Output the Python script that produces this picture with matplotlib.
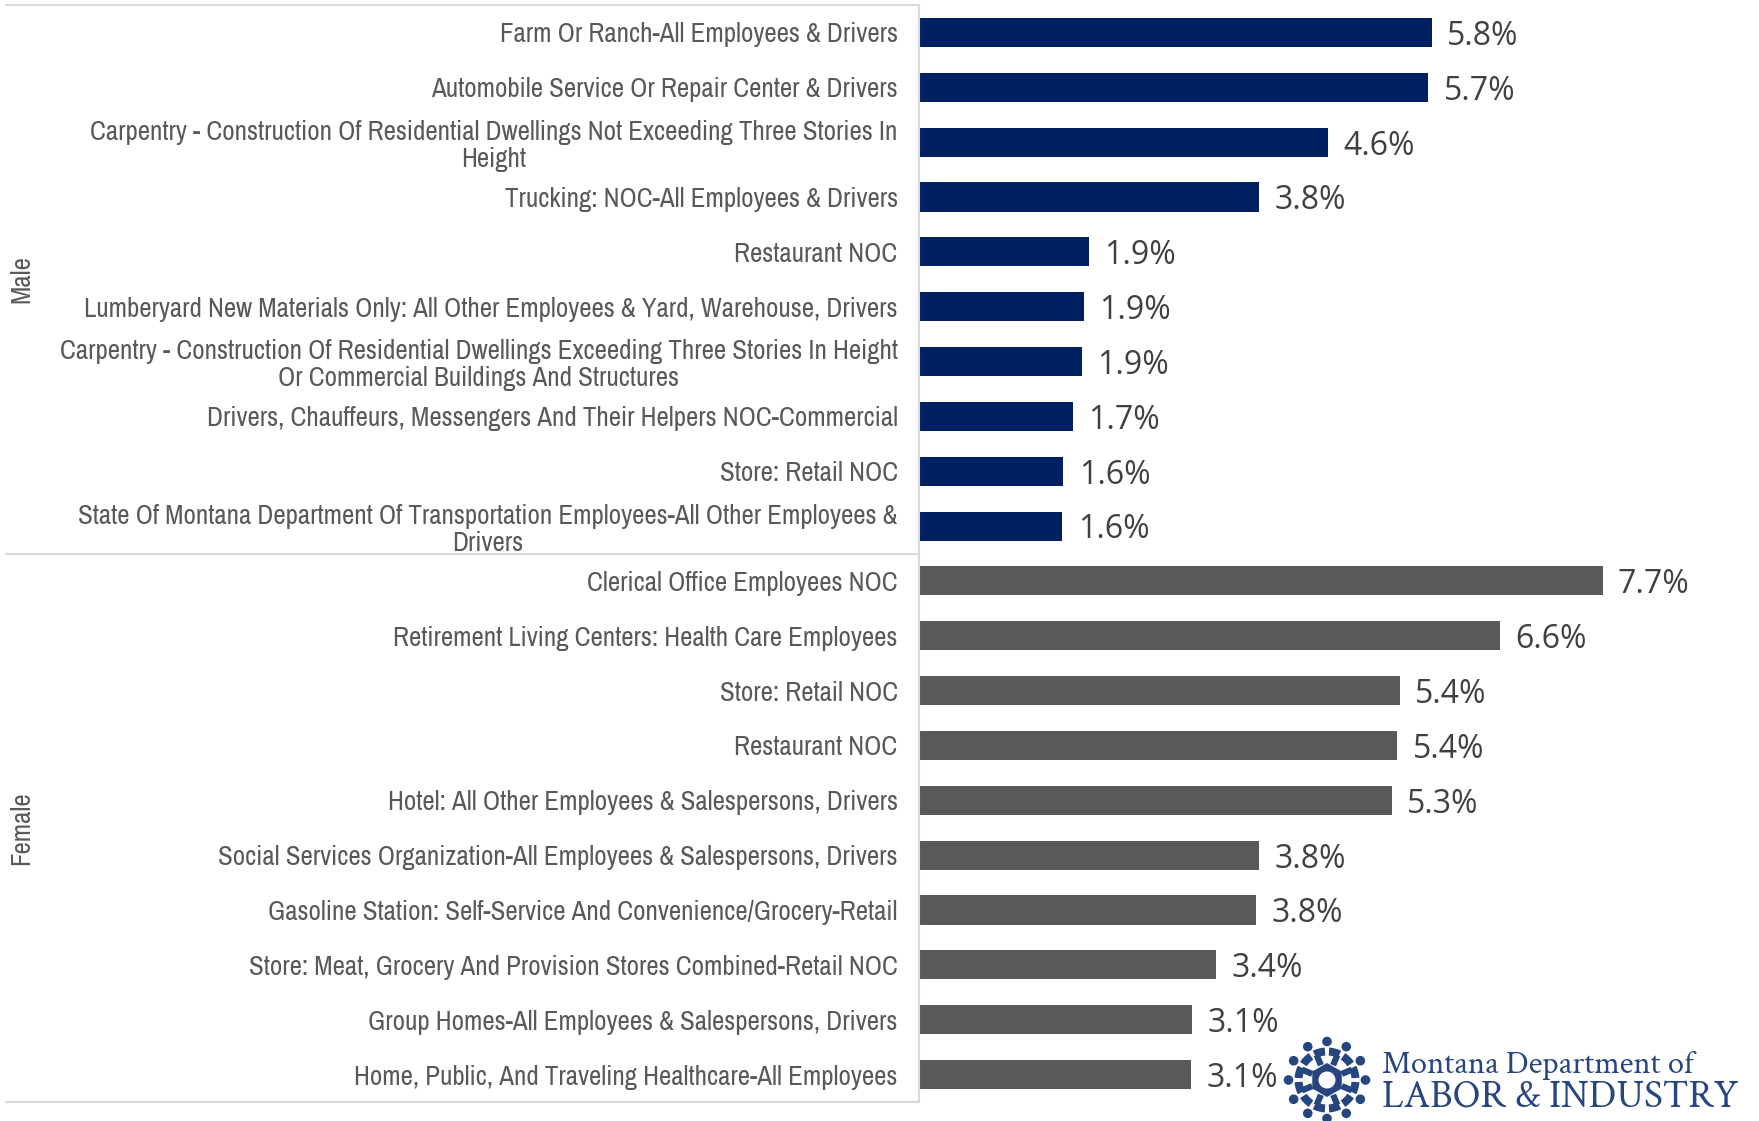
import numpy as np
import matplotlib.pyplot as plt
from matplotlib.patches import Circle, RegularPolygon, Wedge

male_labels = ['Farm Or Ranch-All Employees & Drivers',
               'Automobile Service Or Repair Center & Drivers',
               'Carpentry - Construction Of Residential Dwellings Not Exceeding Three Stories In\nHeight',
               'Trucking: NOC-All Employees & Drivers',
               'Restaurant NOC',
               'Lumberyard New Materials Only: All Other Employees & Yard, Warehouse, Drivers',
               'Carpentry - Construction Of Residential Dwellings Exceeding Three Stories In Height\nOr Commercial Buildings And Structures',
               'Drivers, Chauffeurs, Messengers And Their Helpers NOC-Commercial',
               'Store: Retail NOC',
               'State Of Montana Department Of Transportation Employees-All Other Employees &\nDrivers']
male_values = [5.78, 5.74, 4.61, 3.83, 1.92, 1.86, 1.84, 1.74, 1.63, 1.62]
male_text = ['5.8%', '5.7%', '4.6%', '3.8%', '1.9%', '1.9%', '1.9%', '1.7%', '1.6%', '1.6%']

female_labels = ['Clerical Office Employees NOC',
                 'Retirement Living Centers: Health Care Employees',
                 'Store: Retail NOC',
                 'Restaurant NOC',
                 'Hotel: All Other Employees & Salespersons, Drivers',
                 'Social Services Organization-All Employees & Salespersons, Drivers',
                 'Gasoline Station: Self-Service And Convenience/Grocery-Retail',
                 'Store: Meat, Grocery And Provision Stores Combined-Retail NOC',
                 'Group Homes-All Employees & Salespersons, Drivers',
                 'Home, Public, And Traveling Healthcare-All Employees']
female_values = [7.70, 6.55, 5.42, 5.39, 5.33, 3.83, 3.80, 3.35, 3.08, 3.07]
female_text = ['7.7%', '6.6%', '5.4%', '5.4%', '5.3%', '3.8%', '3.8%', '3.4%', '3.1%', '3.1%']

W, H = 1759, 1121
NAVY = '#002060'
GREY = '#595959'
LINE = '#D9D9D9'
LOGO = '#27457F'
NARROW = ['Archivo Narrow', 'Lato', 'DejaVu Sans']
VALUE_FONT = ['Open Sans', 'DejaVu Sans']
LOGO_FONT = ['Crimson Text', 'Liberation Serif', 'DejaVu Serif']

labels = male_labels + female_labels
values = male_values + female_values
texts = male_text + female_text
colors = [NAVY] * len(male_values) + [GREY] * len(female_values)
y = np.arange(len(values))

fig = plt.figure(figsize=(W / 100, H / 100), dpi=100)
ax = fig.add_axes([918.5 / W, 1 - 1102 / H, (W - 918.5) / W, (1102 - 5) / H])
ax.barh(y, values, height=0.53, color=colors)
ax.set_xlim(0, (W - 918.5) / 88.85)
ax.set_ylim(len(values) - 0.5, -0.5)

ax.set_yticks(y)
ax.set_yticklabels(labels, fontsize=19.4, color=GREY, family=NARROW,
                   ha='right', multialignment='center', linespacing=1.1)
ax.tick_params(axis='y', length=0, pad=15)
ax.set_xticks([])
for s in ['top', 'right', 'bottom']:
    ax.spines[s].set_visible(False)
ax.spines['left'].set_color(LINE)
ax.spines['left'].set_linewidth(1.5)

for i in range(len(values)):
    ax.annotate(texts[i], (values[i], y[i]), xytext=(11, -2.8), textcoords='offset points',
                va='center', ha='left', fontsize=23, color='#404040', family=VALUE_FONT)

# group separators and names sit left of the axis
trans = ax.get_yaxis_transform()
for yy in [-0.5, 9.5, 19.5]:
    ax.plot([-913 / (W - 918.5), 0], [yy, yy], color=LINE, lw=1.5, transform=trans, clip_on=False)
ax.text(-897 / (W - 918.5), 4.5, 'Male', rotation=90, va='center', ha='center', fontsize=19.4,
        color=GREY, family=NARROW, transform=trans)
ax.text(-897 / (W - 918.5), 14.5, 'Female', rotation=90, va='center', ha='center', fontsize=19.4,
        color=GREY, family=NARROW, transform=trans)

# logo, drawn in pixel coordinates over the chart
lg = fig.add_axes([0, 0, 1, 1], facecolor='none')
lg.set_xlim(0, W)
lg.set_ylim(H, 0)
lg.axis('off')
cx, cy = 1327, 1080
for a in np.arange(0, 360, 30):
    r = np.radians(a)
    lg.add_patch(Circle((cx + 38.5 * np.cos(r), cy + 38.5 * np.sin(r)), 4.8, color=LOGO, lw=0))
    lg.add_patch(Wedge((cx, cy), 32.5, a + 4, a + 26, width=8, color=LOGO, lw=0))
for a in np.arange(15, 360, 45):
    r = np.radians(a + 7.5)
    lg.plot([cx + 16 * np.cos(r), cx + 27 * np.cos(r)], [cy + 16 * np.sin(r), cy + 27 * np.sin(r)],
            color=LOGO, lw=4.5, solid_capstyle='butt')
lg.add_patch(RegularPolygon((cx, cy), 6, radius=17, color=LOGO, lw=0))
lg.add_patch(Circle((cx, cy), 8.5, color='white', lw=0))
lg.text(1382, 1073, 'Montana Department of', fontsize=23.4, color=LOGO, family=LOGO_FONT,
        ha='left', va='baseline')
lg.text(1382, 1107, 'LABOR & INDUSTRY', fontsize=28.3, color=LOGO, family=LOGO_FONT,
        ha='left', va='baseline')

fig.savefig('out.png', dpi=100)
